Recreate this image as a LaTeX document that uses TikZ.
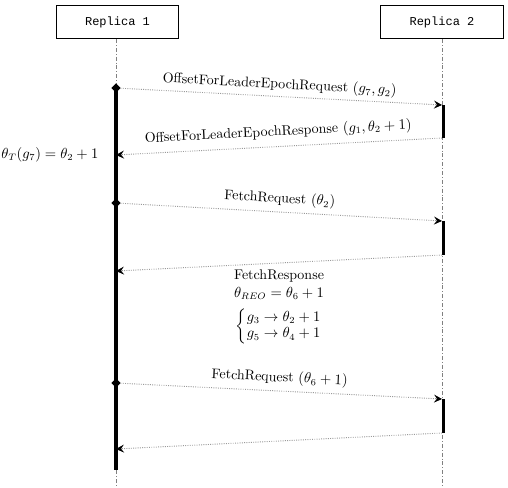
\documentclass[tikz,border=0pt]{standalone}
\usepackage{amsmath}
\usepackage{fontspec}
\setmonofont{Liberation Mono}
\usetikzlibrary{arrows.meta,shapes.geometric}
\begin{document}
\begin{tikzpicture}[x=0.75pt,y=-0.75pt,
  lifebox/.style={draw, line width=0.6pt, minimum width=92pt, minimum height=25pt, inner sep=0pt, font=\ttfamily\fontsize{9}{11}\selectfont},
  lifeline/.style={draw=gray, line width=0.5pt, dash pattern=on 3pt off 1.5pt on 0.6pt off 1.5pt},
  actbar/.style={line width=2.4pt, line cap=butt},
  dmd/.style={diamond, fill=black, inner sep=0pt, minimum width=7pt, minimum height=7pt},
  msg/.style={draw=gray!80, densely dotted, line width=0.7pt, -{Stealth[length=6pt,width=6pt,inset=2.2pt,color=black]}},
  lbl/.style={font=\fontsize{10.5}{12.5}\selectfont, inner sep=2pt}
]
\useasboundingbox (0,0) rectangle (508,487);
% participants
\node[lifebox] (r1) at (117.5,22) {Replica 1};
\node[lifebox] (r2) at (442,22) {Replica 2};
% lifelines
\coordinate (r1end) at (116,487);
\coordinate (r2end) at (442,487);
\draw[lifeline] (r1.south -| r1end) -- (r1end);
\draw[lifeline] (r2.south -| r2end) -- (r2end);
% points on lifelines
\coordinate (a1) at (116,88);
\coordinate (b1) at (442,105);
\coordinate (b2) at (442,138);
\coordinate (a2) at (116,155);
\coordinate (a3) at (116,203);
\coordinate (b3) at (442,221);
\coordinate (b4) at (442,255);
\coordinate (a4) at (116,271);
\coordinate (a5) at (116,383);
\coordinate (b5) at (442,399);
\coordinate (b6) at (442,433);
\coordinate (a6) at (116,449);
\coordinate (a7) at (116,470);
% activation bars
\draw[actbar] (a1) -- (a7);
\draw[actbar] ([xshift=0.9pt]b1) -- ([xshift=0.9pt]b2);
\draw[actbar] ([xshift=0.9pt]b3) -- ([xshift=0.9pt]b4);
\draw[actbar] ([xshift=0.9pt]b5) -- ([xshift=0.9pt]b6);
% messages
\draw[msg] (a1) -- node[lbl, sloped, above=1pt] (m1) {OffsetForLeaderEpochRequest $(g_7, g_2)$} (b1);
\node[dmd] (d1) at (a1) {};
\draw[msg] (b2) -- node[lbl, sloped, above=3pt] (m2) {OffsetForLeaderEpochResponse $(g_1, \theta_2 + 1)$} (a2);
\node[lbl, anchor=east] (t1) at ([xshift=-11pt]a2) {$\theta_T(g_7) = \theta_2 + 1$};
\draw[msg] (a3) -- node[lbl, sloped, above=2pt] (m3) {FetchRequest $(\theta_2)$} (b3);
\node[dmd] (d3) at (a3) {};
\draw[msg] (b4) -- node[lbl, below=3pt, inner sep=0pt] (m4) {\renewcommand{\arraystretch}{1.0}\begin{tabular}{@{}c@{}}FetchResponse\\[1pt] $\theta_{REO} = \theta_6 + 1$\\[5pt] $\left\{\begin{array}{@{}l@{}} g_3 \rightarrow \theta_2 + 1\\[0pt] g_5 \rightarrow \theta_4 + 1\end{array}\right.$\end{tabular}} (a4);
\draw[msg] (a5) -- node[lbl, sloped, above=2pt] (m5) {FetchRequest $(\theta_6 + 1)$} (b5);
\node[dmd] (d5) at (a5) {};
\draw[msg] (b6) -- (a6);
\end{tikzpicture}
\end{document}
